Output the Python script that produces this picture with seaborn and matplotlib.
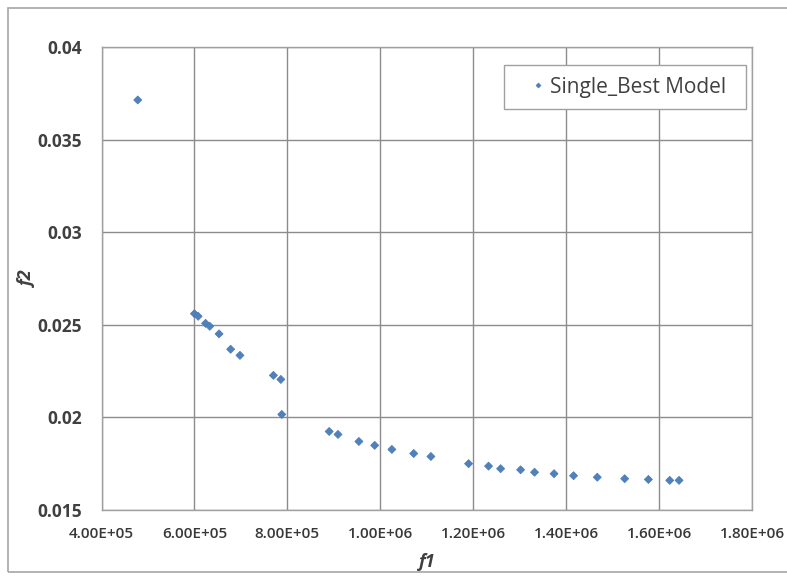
import matplotlib
matplotlib.use("Agg")
import matplotlib.pyplot as plt
import seaborn as sns
import pandas as pd
from matplotlib.patches import Rectangle

# Pareto front of the single best model: objective f1 vs objective f2
f1 = [4.78e5, 6.00e5, 6.08e5, 6.24e5, 6.33e5, 6.53e5, 6.78e5, 6.98e5,
      7.70e5, 7.86e5, 7.88e5, 8.90e5, 9.09e5, 9.54e5, 9.88e5, 1.025e6,
      1.072e6, 1.109e6, 1.190e6, 1.233e6, 1.259e6, 1.302e6, 1.332e6,
      1.374e6, 1.416e6, 1.467e6, 1.526e6, 1.577e6, 1.623e6, 1.643e6]
f2 = [0.03714, 0.02560, 0.02546, 0.02508, 0.02492, 0.02451, 0.02368, 0.02335,
      0.02227, 0.02205, 0.02016, 0.01924, 0.01908, 0.01870, 0.01849, 0.01827,
      0.01805, 0.01789, 0.01750, 0.01737, 0.01723, 0.01717, 0.01704,
      0.01696, 0.01685, 0.01677, 0.01669, 0.01665, 0.01660, 0.01660]
series_name = "Single_Best Model"

x_ticks = [4.0e5, 6.0e5, 8.0e5, 1.0e6, 1.2e6, 1.4e6, 1.6e6, 1.8e6]
x_tick_labels = ["4.00E+05", "6.00E+05", "8.00E+05", "1.00E+06",
                 "1.20E+06", "1.40E+06", "1.60E+06", "1.80E+06"]
y_ticks = [0.015, 0.02, 0.025, 0.03, 0.035, 0.04]
y_tick_labels = ["0.015", "0.02", "0.025", "0.03", "0.035", "0.04"]

df = pd.DataFrame({"f1": f1, "f2": f2, "series": series_name})

sns.set_theme(style="white")
plt.rcParams["font.family"] = ["Open Sans", "DejaVu Sans"]

W, H = 787, 576
TXT = "#404040"
fig = plt.figure(figsize=(W / 100, H / 100), dpi=100)

# chart area frame
fig.patches.append(Rectangle((8 / W, 4 / H), (W + 20) / W, (H - 12) / H,
                             transform=fig.transFigure, fill=False,
                             edgecolor="#A6A6A6", linewidth=1.2, zorder=0))

left, right, top, bottom = 101.5, 752, 47, 510
ax = fig.add_axes([left / W, 1 - bottom / H, (right - left) / W, (bottom - top) / H])

sns.scatterplot(data=df, x="f1", y="f2", hue="series", palette=["#4F81BD"],
                marker="D", s=17, edgecolor="#4A7AB5", linewidth=0.5,
                ax=ax, zorder=3)

ax.set_xlim(4.0e5, 1.8e6)
ax.set_ylim(0.015, 0.04)
ax.set_xticks(x_ticks)
ax.set_xticklabels(x_tick_labels, fontsize=11, fontweight=600, color="#383838")
ax.set_yticks(y_ticks)
ax.set_yticklabels(y_tick_labels, fontsize=12.5, fontweight="bold", color=TXT)
ax.tick_params(axis="x", length=0, pad=12)
ax.tick_params(axis="y", length=0, pad=14)
ax.grid(True, color="#8C8C8C", linewidth=1.0)
ax.set_axisbelow(True)
for sp in ax.spines.values():
    sp.set_color("#A0A0A0")
    sp.set_linewidth(1.0)

ax.set_xlabel("f1", fontsize=13, fontstyle="italic", fontweight="bold", color=TXT)
ax.set_ylabel("f2", fontsize=13, fontstyle="italic", fontweight="bold", color=TXT)
ax.xaxis.set_label_coords(0.5, (bottom - 562) / (bottom - top))
ax.xaxis.label.set_va("center")
ax.yaxis.set_label_coords((28 - left) / (right - left), 0.5)
ax.yaxis.label.set_va("center")

# legend box
ax.add_patch(Rectangle((504 / W, 1 - 109 / H), (746 - 504) / W, 44 / H,
                       transform=fig.transFigure, clip_on=False,
                       facecolor="white", edgecolor="#A0A0A0", linewidth=1.0,
                       zorder=4))
handles, labels = ax.get_legend_handles_labels()
fs = 15
hl = 0.6
leg = ax.legend(handles, labels, loc="center left",
                bbox_to_anchor=((538 - hl * fs * 100 / 72 / 2) / W, 1 - 87 / H),
                bbox_transform=fig.transFigure, frameon=False,
                fontsize=fs, borderpad=0, borderaxespad=0,
                handlelength=hl, handletextpad=0.27, markerscale=0.6)
leg.set_zorder(5)
for t in leg.get_texts():
    t.set_color(TXT)

fig.savefig("out.png", dpi=100)
